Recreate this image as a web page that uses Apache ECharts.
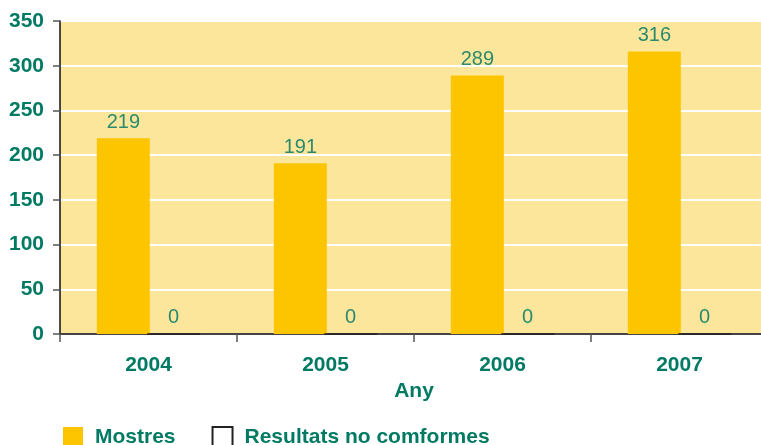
<!DOCTYPE html>
<html>
<head>
<meta charset="utf-8">
<script src="https://cdn.jsdelivr.net/npm/echarts@6/dist/echarts.min.js"></script>
<style>html,body{margin:0;padding:0;background:#fff;}#c{width:761px;height:445px;}</style>
</head>
<body>
<div id="c"></div>
<script>
const years = ['2004', '2005', '2006', '2007'];
const mostres = [219, 191, 289, 316];
const noConformes = [0, 0, 0, 0];
const seriesNames = ['Mostres', 'Resultats no comformes'];
const axisName = 'Any';

const teal = '#007A62';
const labelTeal = '#2B8A6E';
const font = 'Liberation Sans, Arial, sans-serif';

const chart = echarts.init(document.getElementById('c'), null, {renderer: 'canvas'});
chart.setOption({
  animation: false,
  grid: {left: 60, width: 708, top: 21, bottom: 111, show: true, backgroundColor: '#FCE69C', borderWidth: 0,
         containLabel: false, outerBoundsMode: 'none'},
  legend: {
    left: 63, top: 426, padding: 0, itemWidth: 20, itemHeight: 20, itemGap: 36,
    icon: 'rect',
    textStyle: {color: teal, fontSize: 21, fontWeight: 'bold', fontFamily: font, padding: [0, 0, 0, 7]},
    data: seriesNames
  },
  xAxis: {
    type: 'category', data: years,
    name: axisName, nameLocation: 'middle', nameGap: 45,
    nameTextStyle: {color: teal, fontSize: 21, fontWeight: 'bold', fontFamily: font},
    axisLine: {lineStyle: {color: '#444', width: 2}},
    axisTick: {show: true, length: 8, lineStyle: {color: '#555', width: 1.5}},
    axisLabel: {color: teal, fontSize: 21, fontWeight: 'bold', fontFamily: font, margin: 21},
    splitLine: {show: false}
  },
  yAxis: {
    type: 'value', min: 0, max: 350, interval: 50,
    axisLine: {show: true, lineStyle: {color: '#111', width: 1.5}},
    axisTick: {show: true, length: 7, lineStyle: {color: '#555', width: 1.5}},
    axisLabel: {color: teal, fontSize: 21, fontWeight: 'bold', fontFamily: font, margin: 16},
    splitLine: {show: true, lineStyle: {color: '#fff', width: 2}}
  },
  series: [
    {
      name: seriesNames[0], type: 'bar', data: mostres, barWidth: 53, barGap: '-5%',
      itemStyle: {color: '#FDC500'},
      label: {show: true, position: 'top', distance: 6, color: labelTeal, fontSize: 20, fontFamily: font}
    },
    {
      name: seriesNames[1], type: 'bar', data: noConformes, barWidth: 53,
      itemStyle: {color: '#fff', borderColor: '#222', borderWidth: 1},
      label: {show: true, position: 'top', distance: 6, color: labelTeal, fontSize: 20, fontFamily: font}
    }
  ]
});
</script>
</body>
</html>
